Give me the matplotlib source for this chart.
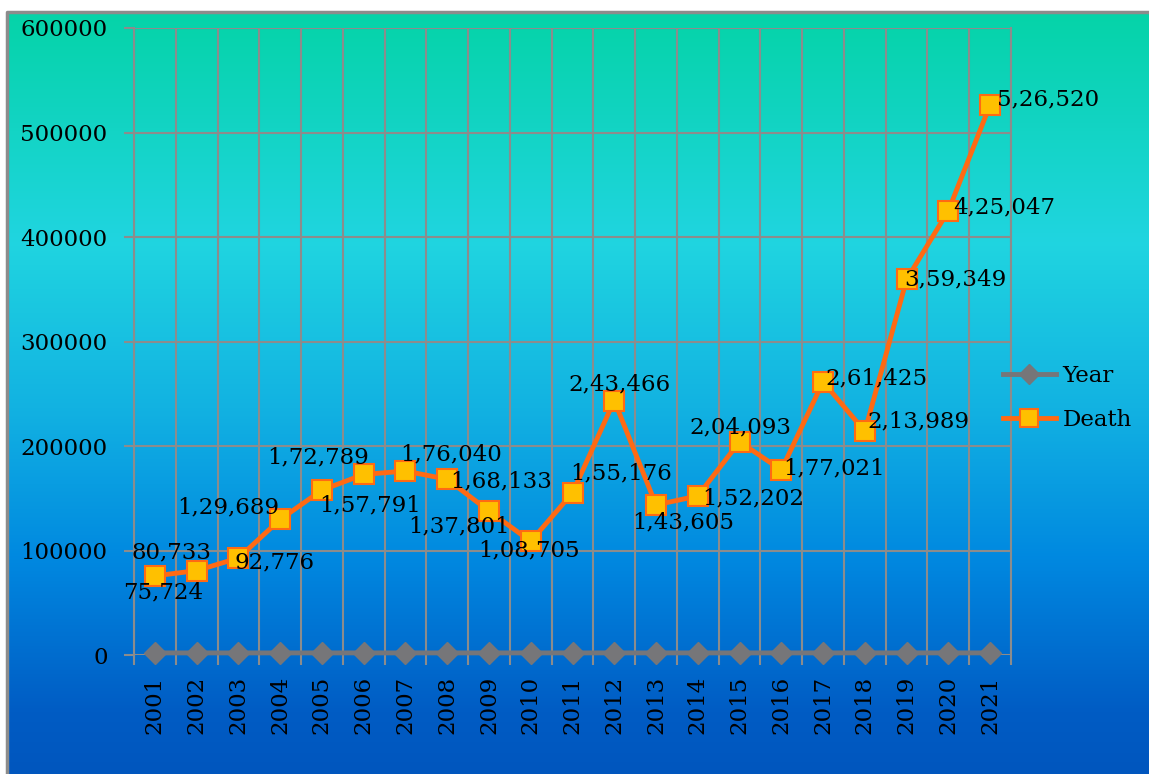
import numpy as np
import matplotlib.pyplot as plt
from matplotlib.colors import LinearSegmentedColormap

years = [2001, 2002, 2003, 2004, 2005, 2006, 2007, 2008, 2009, 2010, 2011,
         2012, 2013, 2014, 2015, 2016, 2017, 2018, 2019, 2020, 2021]
deaths = [75724, 80733, 92776, 129689, 157791, 172789, 176040, 168133, 137801,
          108705, 155176, 243466, 143605, 152202, 204093, 177021, 261425,
          213989, 359349, 425047, 526520]
labels = ['75,724', '80,733', '92,776', '1,29,689', '1,57,791', '1,72,789',
          '1,76,040', '1,68,133', '1,37,801', '1,08,705', '1,55,176',
          '2,43,466', '1,43,605', '1,52,202', '2,04,093', '1,77,021',
          '2,61,425', '2,13,989', '3,59,349', '4,25,047', '5,26,520']
# label offsets in pixels (dx, dy) from each point
offsets = [(8, -17), (-25, 18), (36, -4), (-52, 12), (48, -15), (-46, 17),
           (46, 17), (54, -2), (-30, -15), (-2, -9), (49, 19), (5, 16),
           (27, -18), (55, -2), (1, 14), (53, 2), (53, 3), (54, 10),
           (49, 0), (56, 3), (58, 5)]

W, H = 1149, 774
fig = plt.figure(figsize=(W / 100, H / 100), dpi=100)
fig.patch.set_facecolor('white')

# gradient background with grey border on left and top
bg = fig.add_axes([7 / W, 0, (W - 7) / W, (H - 12) / H])
bg.set_axis_off()
cmap = LinearSegmentedColormap.from_list('bg', [
    (0.0, '#05d3a8'), (0.30, '#20d5e0'), (0.52, '#12b2e2'),
    (0.72, '#0088e0'), (0.92, '#005cc4'), (1.0, '#0056be')])
grad = np.linspace(0, 1, 256).reshape(-1, 1)
bg.imshow(grad, aspect='auto', cmap=cmap, extent=[0, 1, 0, 1], origin='upper')
bg.plot([0, 0, 1.05], [-0.05, 1, 1], color='#8c8c8c', lw=2.5,
        transform=bg.transAxes, clip_on=False)

ax = fig.add_axes([134 / W, (H - 655) / H, (1011 - 134) / W, (655 - 28) / H])
ax.set_facecolor('none')
x = np.arange(1, len(years) + 1)
font = 'DejaVu Serif'
fs = 16.5

ax.plot(x, years, color='#767679', lw=3.5, marker='D', ms=11,
        mfc='#767679', mec='#767679', label='Year', zorder=4, clip_on=False)
ax.plot(x, deaths, color='#ff6a13', lw=3.5, marker='s', ms=15,
        mfc='#ffc000', mec='#ff6a13', mew=1.5, label='Death', zorder=5)

for xi, yi, lab, (dx, dy) in zip(x, deaths, labels, offsets):
    ax.annotate(lab, (xi, yi), xytext=(dx, dy), textcoords='offset pixels',
                ha='center', va='center', fontsize=fs, family=font,
                color='black', zorder=6)

ax.set_xlim(0.5, len(years) + 0.5)
ax.set_ylim(0, 600000)
ax.set_yticks(np.arange(0, 600001, 100000))
ax.set_yticklabels([str(v) for v in range(0, 600001, 100000)],
                   fontsize=fs, family=font)
ax.set_xticks(x)
ax.set_xticklabels([str(y) for y in years], rotation=90, fontsize=fs,
                   family=font)
ax.set_xticks(np.arange(0.5, len(years) + 1), minor=True)
ax.tick_params(axis='x', which='major', length=0, pad=15)
ax.tick_params(axis='x', which='minor', length=7, color='#8c8c8c', width=1.5)
ax.tick_params(axis='y', length=7, color='#8c8c8c', width=1.5, pad=12)
ax.grid(True, which='minor', axis='x', color='#8c8c8c', lw=1.5)
ax.grid(True, which='major', axis='y', color='#8c8c8c', lw=1.5)
ax.set_axisbelow(True)
for s in ax.spines.values():
    s.set_visible(False)
for side in ['left', 'right']:
    ax.spines[side].set_visible(True)
    ax.spines[side].set_color('#8c8c8c')
    ax.spines[side].set_linewidth(1.5)

ax.legend(loc='center left', bbox_to_anchor=((1003 - 134) / 877, 0.41),
          frameon=False, prop={'family': font, 'size': fs}, handlelength=2.3,
          labelspacing=0.95, handletextpad=0.3, borderaxespad=0, borderpad=0,
          markerscale=0.9)

fig.savefig('out.png', dpi=100)
